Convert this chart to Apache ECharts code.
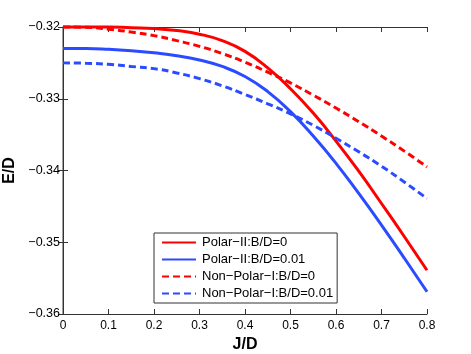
<!DOCTYPE html>
<html lang="en">
<head>
<meta charset="UTF-8">
<title>E/D vs J/D</title>
<script src="https://cdn.jsdelivr.net/npm/echarts@6/dist/echarts.min.js"></script>
<style>
  html, body { margin: 0; padding: 0; background: #fff; }
  #main { width: 471px; height: 354px; }
</style>
</head>
<body>
<div id="main"></div>
<script>
// J/D sample points
var jd = [0, 0.05, 0.1, 0.15, 0.2, 0.25, 0.3, 0.35, 0.4, 0.45, 0.5, 0.55, 0.6, 0.65, 0.7, 0.75, 0.8];

// E/D values
var polarB0   = [-0.3200, -0.3200, -0.3200, -0.3201, -0.3202, -0.3205, -0.3210, -0.3219, -0.3234, -0.3257, -0.3286, -0.3320, -0.3359, -0.3401, -0.3446, -0.3492, -0.3539];
var polarB001 = [-0.3230, -0.3230, -0.3231, -0.3233, -0.3236, -0.3240, -0.3246, -0.3255, -0.3269, -0.3290, -0.3318, -0.3352, -0.3390, -0.3432, -0.3476, -0.3522, -0.3569];
var nonPolarB0   = [-0.3200, -0.32005, -0.3203, -0.3207, -0.3212, -0.3219, -0.3227, -0.3237, -0.3249, -0.3263, -0.3278, -0.3295, -0.3313, -0.3332, -0.3352, -0.3373, -0.3395];
var nonPolarB001 = [-0.3250, -0.32505, -0.3252, -0.3255, -0.3258, -0.3264, -0.3272, -0.3282, -0.3294, -0.3307, -0.3321, -0.3337, -0.3355, -0.3374, -0.3394, -0.3416, -0.3439];

var names = ['Polar\u2212II:B/D=0', 'Polar\u2212II:B/D=0.01', 'Non\u2212Polar\u2212I:B/D=0', 'Non\u2212Polar\u2212I:B/D=0.01'];

var RED = '#ff0000', BLUE = '#2a4bff';
var font = 'Liberation Sans, Arial, Helvetica, sans-serif';

function pairs(ys) {
    var out = [];
    for (var i = 0; i < jd.length; i++) out.push([jd[i], ys[i]]);
    return out;
}

function mkSeries(name, ys, color, dashed) {
    return {
        name: name,
        type: 'line',
        data: pairs(ys),
        smooth: 0.5,
        symbol: 'none',
        clip: false,
        lineStyle: { color: color, width: 3, type: dashed ? [7, 4] : 'solid' },
        itemStyle: { color: color }
    };
}

var myChart = echarts.init(document.getElementById('main'), null, { renderer: 'canvas' });

var axisText = { color: '#000', fontSize: 12, fontFamily: font };

var option = {
    animation: false,
    backgroundColor: '#fff',
    grid: { left: 63, right: 44, top: 27, bottom: 40, outerBoundsMode: 'none' },
    xAxis: [{
        type: 'value',
        min: 0, max: 0.8, interval: 0.1,
        name: 'J/D',
        nameLocation: 'middle',
        nameGap: 23,
        nameTextStyle: { color: '#000', fontSize: 16, fontWeight: 'bold', fontFamily: font },
        axisLine: { lineStyle: { color: '#333', width: 1 } },
        axisTick: { inside: true, length: 5, lineStyle: { color: '#333' } },
        axisLabel: Object.assign({ margin: 6, formatter: function (v) { return v === 0 ? '0' : v.toFixed(1); } }, axisText),
        splitLine: { show: false }
    }, {
        type: 'value', position: 'top',
        min: 0, max: 0.8, interval: 0.1,
        axisLine: { lineStyle: { color: '#333', width: 1 } },
        axisTick: { inside: true, length: 5, lineStyle: { color: '#333' } },
        axisLabel: { show: false },
        splitLine: { show: false }
    }],
    yAxis: [{
        type: 'value',
        min: -0.36, max: -0.32, interval: 0.01,
        name: 'E/D',
        nameLocation: 'middle',
        nameGap: 42,
        nameTextStyle: { color: '#000', fontSize: 16, fontWeight: 'bold', fontFamily: font },
        axisLine: { lineStyle: { color: '#808080', width: 1.5 } },
        axisTick: { inside: true, length: 5, lineStyle: { color: '#333' } },
        axisLabel: Object.assign({ margin: 3, formatter: function (v) { return v.toFixed(2).replace('-', '\u2212'); } }, axisText, { fontSize: 12.5 }),
        splitLine: { show: false }
    }, {
        type: 'value', position: 'right',
        min: -0.36, max: -0.32, interval: 0.01,
        axisLine: { lineStyle: { color: '#333', width: 1 } },
        axisTick: { inside: true, length: 5, lineStyle: { color: '#333' } },
        axisLabel: { show: false },
        splitLine: { show: false }
    }],
    legend: {
        data: names,
        orient: 'vertical',
        left: 154, top: 233,
        padding: [3, 4, 3, 7],
        itemWidth: 34, itemHeight: 12, itemGap: 4,
        borderColor: '#333', borderWidth: 1,
        backgroundColor: '#fff',
        itemStyle: { opacity: 0 },
        textStyle: { color: '#000', fontSize: 13, lineHeight: 12, fontFamily: font, padding: [0, 0, 0, 1] }
    },
    series: [
        mkSeries(names[0], polarB0, RED, false),
        mkSeries(names[1], polarB001, BLUE, false),
        mkSeries(names[2], nonPolarB0, RED, true),
        mkSeries(names[3], nonPolarB001, BLUE, true)
    ]
};

if (option && typeof option === 'object') {
    myChart.setOption(option, true);
}
</script>
</body>
</html>
